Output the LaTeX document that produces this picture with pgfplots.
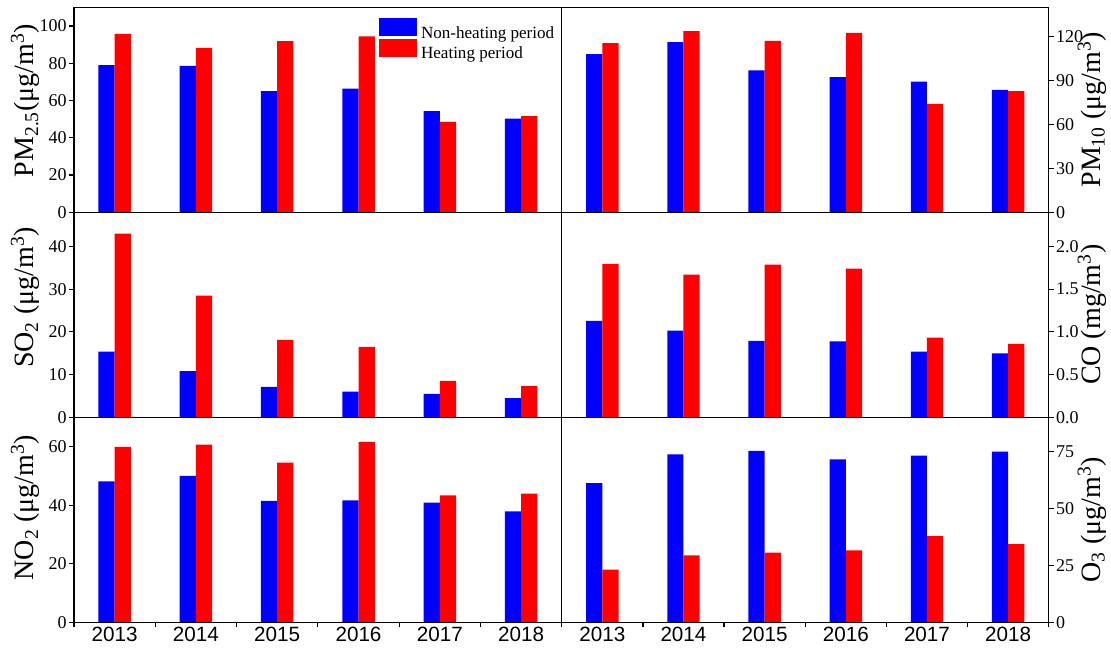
\documentclass[border=0pt]{standalone}
\usepackage{pgfplots}
\pgfplotsset{compat=1.18}
\usepackage{pgfplotstable}
\usepackage{fontspec}
\setmainfont{Liberation Serif}
\newfontfamily\arialfont{Liberation Sans}

\pgfplotstableread{
x nh h
1 79.0 95.8
2 78.5 88.2
3 65.0 91.8
4 66.3 94.4
5 54.3 48.5
6 50.3 51.6
}\pmtwofive
\pgfplotstableread{
x nh h
1 108.0 115.5
2 116.2 123.7
3 97.0 117.0
4 92.3 122.6
5 89.3 74.0
6 83.6 82.7
}\pmten
\pgfplotstableread{
x nh h
1 15.4 43.0
2 10.8 28.5
3 7.1 18.1
4 6.0 16.5
5 5.5 8.5
6 4.5 7.3
}\sotwo
\pgfplotstableread{
x nh h
1 1.130 1.795
2 1.015 1.670
3 0.894 1.788
4 0.890 1.741
5 0.768 0.933
6 0.748 0.859
}\co
\pgfplotstableread{
x nh h
1 48.1 59.9
2 50.0 60.7
3 41.5 54.5
4 41.6 61.6
5 40.9 43.3
6 37.9 43.9
}\notwo
\pgfplotstableread{
x nh h
1 61.1 23.1
2 73.7 29.4
3 75.3 30.6
4 71.5 31.6
5 73.2 37.8
6 74.9 34.3
}\othree

\pgfplotsset{
  panel/.style={
    scale only axis, height=153.75pt,
    xmin=0.5, xmax=6.5, ymin=0, enlargelimits=false,
    axis on top, axis line style={line width=0.9pt},
    tick align=outside, major tick length=3.75pt,
    every tick/.style={black, line width=0.9pt},
    /pgf/number format/assume math mode=true,
    yticklabel style={font=\fontsize{13.5}{15}\selectfont, inner sep=1.5pt},
    ylabel style={font=\fontsize{21}{24}\selectfont, anchor=center},
    xtick=\empty,
    bar width=0.2,
  },
  leftpanel/.style={panel, width=365.8pt, ytick pos=left},
  rightpanel/.style={panel, width=365.25pt, ytick pos=right, yticklabel pos=right},
  bottomrow/.style={
    xtick={0.5,1.5,...,6.5}, xtick pos=bottom,
    x tick label as interval,
    xticklabels={2013,2014,2015,2016,2017,2018},
    xticklabel style={font=\arialfont\fontsize{15.5}{17}\selectfont, inner sep=0pt},
  },
  nh/.style={ybar, fill={rgb,255:red,0;green,0;blue,255}, draw=none, bar shift=-0.1},
  hh/.style={ybar, fill={rgb,255:red,255;green,0;blue,0}, draw=none, bar shift=0.1},
}

\begin{document}
\begin{tikzpicture}
\path[use as bounding box] (0,0) rectangle (833.25pt,489pt);

% top-left PM2.5
\begin{axis}[leftpanel, at={(55.5pt,329.775pt)}, anchor=south west,
  ymax=110, ytick={0,20,...,100},
  ylabel={PM\textsubscript{2.5}(μg/m\textsuperscript{3})},
  ylabel style={at={(axis description cs:-0.0995,0.545)}},
  legend style={draw=none, fill=none, inner sep=0pt, outer sep=0pt,
    at={(axis description cs:0.6254,0.946)}, anchor=north west,
    font=\fontsize{12.8}{14}\selectfont, column sep=2pt, row sep=-1.9pt,
    nodes={inner sep=1pt}},
  legend cell align=left,
  legend image code/.code={\fill[#1] (0pt,-2.4pt) rectangle (28.5pt,11.1pt);},
]
\addplot[nh] table[x=x,y=nh] {\pmtwofive};
\addplot[hh] table[x=x,y=h] {\pmtwofive};
\legend{Non-heating period, Heating period}
\end{axis}

% top-right PM10
\begin{axis}[rightpanel, at={(421.3pt,329.775pt)}, anchor=south west,
  ymax=140, ytick={0,30,...,120},
  ylabel={PM\textsubscript{10} (μg/m\textsuperscript{3})},
  ylabel style={at={(axis description cs:1.089,0.5)}},
]
\addplot[nh] table[x=x,y=nh] {\pmten};
\addplot[hh] table[x=x,y=h] {\pmten};
\end{axis}

% middle-left SO2
\begin{axis}[leftpanel, at={(55.5pt,176.025pt)}, anchor=south west,
  ymax=48, ytick={0,10,...,40},
  ylabel={SO\textsubscript{2} (μg/m\textsuperscript{3})},
  ylabel style={at={(axis description cs:-0.0995,0.585)}},
]
\addplot[nh] table[x=x,y=nh] {\sotwo};
\addplot[hh] table[x=x,y=h] {\sotwo};
\end{axis}

% middle-right CO
\begin{axis}[rightpanel, at={(421.3pt,176.025pt)}, anchor=south west,
  ymax=2.4, ytick={0,0.5,...,2.0},
  yticklabel style={/pgf/number format/.cd, fixed, fixed zerofill, precision=1},
  ylabel={CO (mg/m\textsuperscript{3})},
  ylabel style={at={(axis description cs:1.089,0.5)}},
]
\addplot[nh] table[x=x,y=nh] {\co};
\addplot[hh] table[x=x,y=h] {\co};
\end{axis}

% bottom-left NO2
\begin{axis}[leftpanel, bottomrow, at={(55.5pt,22.275pt)}, anchor=south west,
  ymax=70, ytick={0,20,...,60},
  ylabel={NO\textsubscript{2} (μg/m\textsuperscript{3})},
  ylabel style={at={(axis description cs:-0.0995,0.56)}},
]
\addplot[nh] table[x=x,y=nh] {\notwo};
\addplot[hh] table[x=x,y=h] {\notwo};
\end{axis}

% bottom-right O3
\begin{axis}[rightpanel, bottomrow, at={(421.3pt,22.275pt)}, anchor=south west,
  ymax=90, ytick={0,25,...,75},
  ylabel={O\textsubscript{3} (μg/m\textsuperscript{3})},
  ylabel style={at={(axis description cs:1.089,0.5)}},
]
\addplot[nh] table[x=x,y=nh] {\othree};
\addplot[hh] table[x=x,y=h] {\othree};
\end{axis}
\end{tikzpicture}
\end{document}
